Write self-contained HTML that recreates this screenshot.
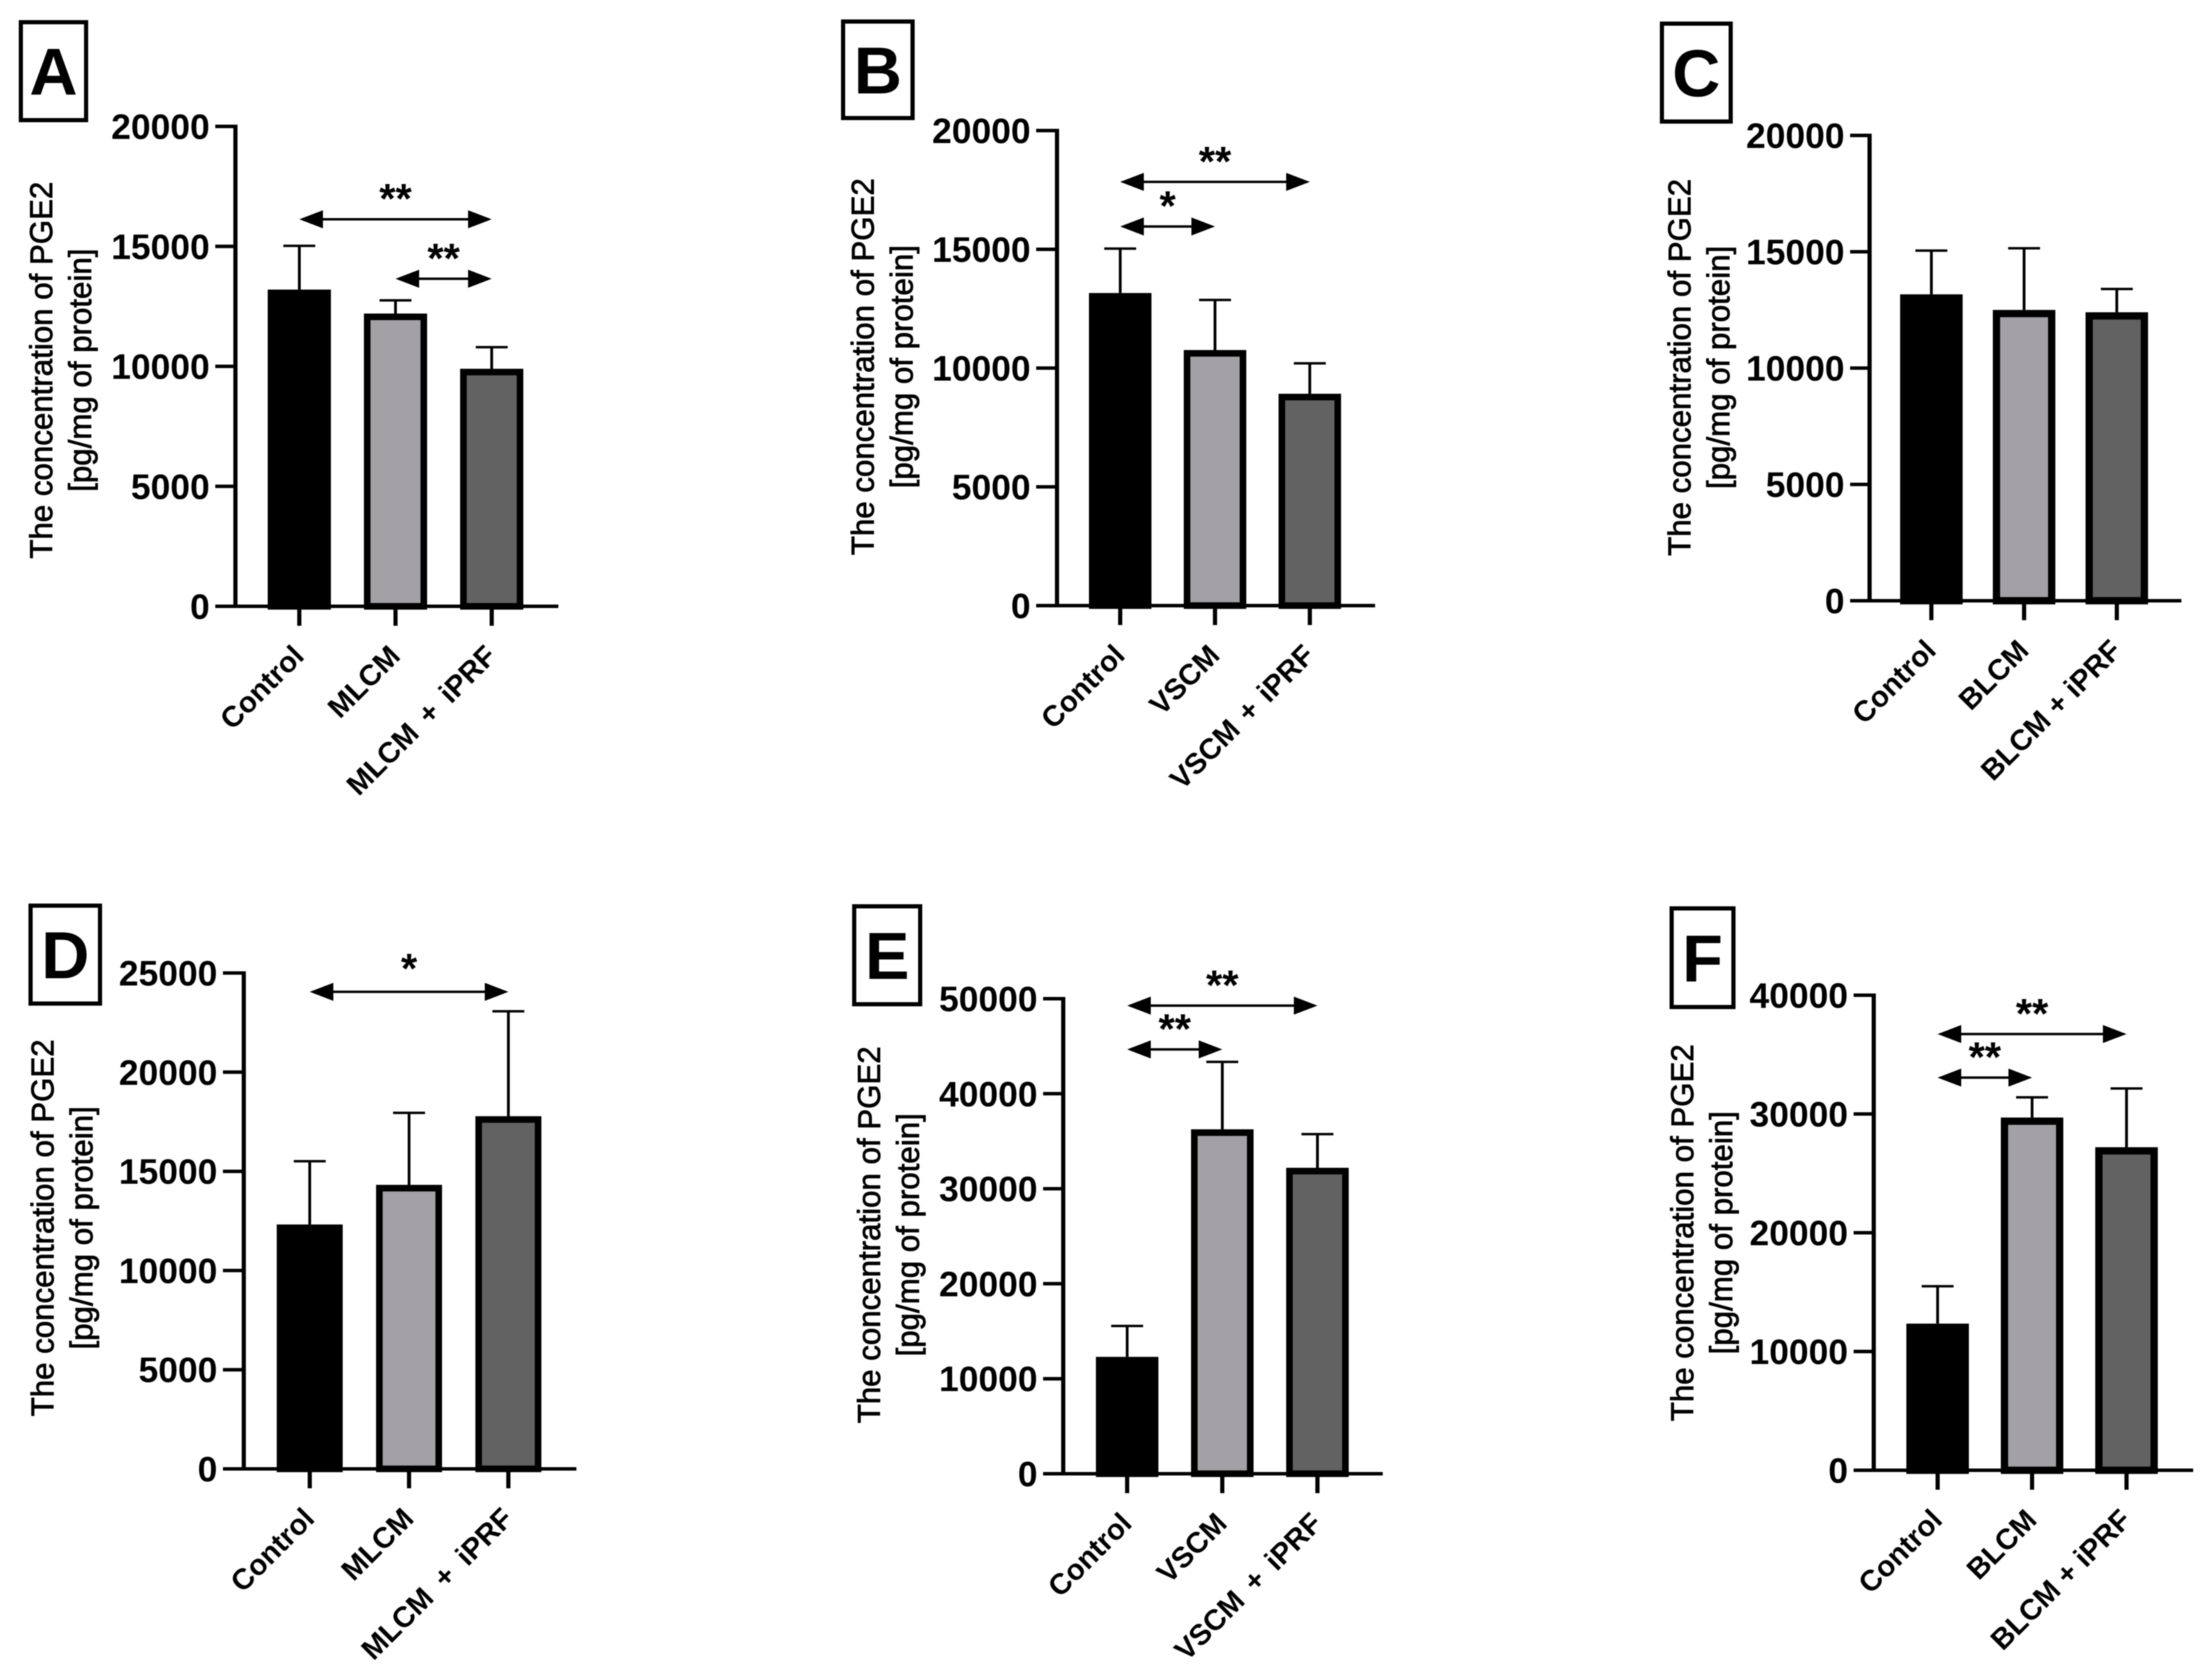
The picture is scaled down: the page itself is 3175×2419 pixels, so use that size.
<!DOCTYPE html>
<html lang="en">
<head>
<meta charset="utf-8">
<title>PGE2 concentration bar charts</title>
<style>
html,body{margin:0;padding:0;background:#fff;}
svg{display:block;filter:blur(0.7px);}
text{font-family:"Liberation Sans",Arial,sans-serif;fill:#000;}
</style>
</head>
<body>
<svg id="figure" xmlns="http://www.w3.org/2000/svg" width="3175" height="2419" viewBox="0 0 3175 2419">
<rect x="0" y="0" width="3175" height="2419" fill="#ffffff"/>
</svg>
<script>
// Chart data
const categoriesA = ['Control', 'MLCM', 'MLCM + iPRF'];
const valuesA = [13200, 12200, 9900];
const errorTopsA = [15020, 12750, 10800];
const ticksA = [0, 5000, 10000, 15000, 20000];
const sigFromA = [0, 1];
const sigToA = [2, 2];
const sigLevelA = [16130, 13650];
const sigLabelA = ['**', '**'];

const categoriesB = ['Control', 'VSCM', 'VSCM + iPRF'];
const valuesB = [13160, 10760, 8920];
const errorTopsB = [15030, 12870, 10200];
const ticksB = [0, 5000, 10000, 15000, 20000];
const sigFromB = [0, 0];
const sigToB = [2, 1];
const sigLevelB = [17840, 15960];
const sigLabelB = ['**', '*'];

const categoriesC = ['Control', 'BLCM', 'BLCM + iPRF'];
const valuesC = [13170, 12500, 12400];
const errorTopsC = [15050, 15150, 13400];
const ticksC = [0, 5000, 10000, 15000, 20000];
const sigFromC = [];
const sigToC = [];
const sigLevelC = [];
const sigLabelC = [];

const categoriesD = ['Control', 'MLCM', 'MLCM + iPRF'];
const valuesD = [12320, 14320, 17780];
const errorTopsD = [15510, 17950, 23070];
const ticksD = [0, 5000, 10000, 15000, 20000, 25000];
const sigFromD = [0];
const sigToD = [2];
const sigLevelD = [24050];
const sigLabelD = ['*'];

const categoriesE = ['Control', 'VSCM', 'VSCM + iPRF'];
const valuesE = [12300, 36250, 32200];
const errorTopsE = [15550, 43350, 35750];
const ticksE = [0, 10000, 20000, 30000, 40000, 50000];
const sigFromE = [0, 0];
const sigToE = [2, 1];
const sigLevelE = [49270, 44660];
const sigLabelE = ['**', '**'];

const categoriesF = ['Control', 'BLCM', 'BLCM + iPRF'];
const valuesF = [12350, 29700, 27200];
const errorTopsF = [15500, 31400, 32150];
const ticksF = [0, 10000, 20000, 30000, 40000];
const sigFromF = [0, 0];
const sigToF = [2, 1];
const sigLevelF = [36730, 33060];
const sigLabelF = ['**', '**'];

const barFills = ['#000000', '#a3a1a6', '#626262'];

const SVGNS = 'http://www.w3.org/2000/svg';
const figure = document.getElementById('figure');

function make(parent, tag, attrs, text) {
  const el = document.createElementNS(SVGNS, tag);
  for (const k in attrs) el.setAttribute(k, attrs[k]);
  if (text !== undefined) el.textContent = text;
  parent.appendChild(el);
  return el;
}

function drawPanel(letter, g, data) {
  const id = letter.toLowerCase();
  const yMax = data.ticks[data.ticks.length - 1];
  const yScale = function (v) { return g.y0 - (v / yMax) * (g.y0 - g.top); };
  const xScale = function (i) { return g.c0 + i * g.step; };

  const panel = make(figure, 'g', {});
  
  

  // Panel letter box
  const box = make(panel, 'rect', {
    x: g.bx + 3, y: g.by + 3, width: g.bw - 6, height: g.bh - 6,
    fill: '#ffffff', stroke: '#000000', 'stroke-width': 6
  });
  
  
  const letterEl = make(panel, 'text', {
    x: g.bx + g.bw / 2, y: g.by + g.bh / 2 + 34,
    'text-anchor': 'middle', 'font-size': 96, 'font-weight': 'bold'
  }, letter);
  
  

  // Y axis title
  const tx1 = g.axisX - 264 + g.titleDx;
  const tx2 = g.axisX - 208 + g.titleDx;
  const title1 = make(panel, 'text', {
    transform: 'translate(' + tx1 + ' ' + g.titleY + ') rotate(-90)',
    'text-anchor': 'middle', 'font-size': 45, stroke: '#000', 'stroke-width': 1
  }, 'The concentration of PGE2');
  
  
  const title2 = make(panel, 'text', {
    transform: 'translate(' + tx2 + ' ' + g.titleY + ') rotate(-90)',
    'text-anchor': 'middle', 'font-size': 45, stroke: '#000', 'stroke-width': 1
  }, '[pg/mg of protein]');
  
  

  // Error bars (behind bars)
  data.values.forEach(function (v, i) {
    const cx = xScale(i);
    const stem = make(panel, 'line', {
      x1: cx, x2: cx, y1: yScale(v), y2: yScale(data.errorTops[i]),
      stroke: '#000', 'stroke-width': 4
    });
    
    
    const cap = make(panel, 'line', {
      x1: cx - 23, x2: cx + 23, y1: yScale(data.errorTops[i]), y2: yScale(data.errorTops[i]),
      stroke: '#000', 'stroke-width': 3.5
    });
    
    
  });

  // Bars
  data.values.forEach(function (v, i) {
    const cx = xScale(i);
    const sw = g.barSw;
    const bar = make(panel, 'rect', {
      x: cx - g.barW / 2 + sw / 2, y: yScale(v) + sw / 2,
      width: g.barW - sw, height: g.y0 - yScale(v) - sw / 2,
      fill: barFills[i], stroke: '#000', 'stroke-width': sw
    });
    
    
  });

  // Y axis and ticks
  const yAxis = make(panel, 'line', {
    x1: g.axisX, x2: g.axisX, y1: g.top - 2.5, y2: g.y0 + 2.5,
    stroke: '#000', 'stroke-width': 6
  });
  
  
  data.ticks.forEach(function (t) {
    const y = yScale(t);
    const tick = make(panel, 'line', {
      x1: g.tickLeft, x2: g.axisX, y1: y, y2: y, stroke: '#000', 'stroke-width': 5
    });
    
    
    const label = make(panel, 'text', {
      x: g.tickLeft - 8, y: y + 18, 'text-anchor': 'end',
      'font-size': 51, 'font-weight': 'bold'
    }, String(t));
    
    
  });

  // X axis, ticks, labels
  const xAxis = make(panel, 'line', {
    x1: g.tickLeft, x2: g.xEnd, y1: g.y0, y2: g.y0, stroke: '#000', 'stroke-width': 5
  });
  
  
  data.categories.forEach(function (c, i) {
    const cx = xScale(i);
    const tick = make(panel, 'line', {
      x1: cx, x2: cx, y1: g.y0, y2: g.y0 + 28, stroke: '#000', 'stroke-width': 6
    });
    
    
    const label = make(panel, 'text', {
      transform: 'translate(' + (cx + 9) + ' ' + (g.y0 + 74) + ') rotate(-45)',
      'text-anchor': 'end', 'font-size': 42, 'font-weight': 'bold',
      'word-spacing': g.labelWs
    }, c);
    
    
  });

  // Significance arrows
  data.sigFrom.forEach(function (from, k) {
    const x1 = xScale(from);
    const x2 = xScale(data.sigTo[k]);
    const y = yScale(data.sigLevel[k]);
    const line = make(panel, 'line', {
      x1: x1 + 10, x2: x2 - 10, y1: y, y2: y, stroke: '#000', 'stroke-width': 3.5
    });
    
    
    const headL = make(panel, 'path', {
      d: 'M' + x1 + ' ' + y + ' l34 -13 v26 z', fill: '#000'
    });
    
    
    const headR = make(panel, 'path', {
      d: 'M' + x2 + ' ' + y + ' l-34 -13 v26 z', fill: '#000'
    });
    
    
    const star = make(panel, 'text', {
      x: (x1 + x2) / 2, y: y - g.starGap + 35, 'text-anchor': 'middle',
      'font-size': 60, 'font-weight': 'bold'
    }, data.sigLabel[k]);
    
    
  });
}

drawPanel('A',
  {bx: 27, by: 29, bw: 100, bh: 147, axisX: 339, top: 182, y0: 873, tickLeft: 310, xEnd: 804, c0: 431, step: 138.5, barW: 91, barSw: 9.5, titleY: 533, titleDx: 0, starGap: 44, labelWs: 7},
  {categories: categoriesA, values: valuesA, errorTops: errorTopsA, ticks: ticksA, sigFrom: sigFromA, sigTo: sigToA, sigLevel: sigLevelA, sigLabel: sigLabelA});
drawPanel('B',
  {bx: 1211, by: 28, bw: 106, bh: 145, axisX: 1522, top: 188, y0: 872, tickLeft: 1492, xEnd: 1980, c0: 1613, step: 136.5, barW: 90, barSw: 9.5, titleY: 528, titleDx: 0, starGap: 44, labelWs: 4},
  {categories: categoriesB, values: valuesB, errorTops: errorTopsB, ticks: ticksB, sigFrom: sigFromB, sigTo: sigToB, sigLevel: sigLevelB, sigLabel: sigLabelB});
drawPanel('C',
  {bx: 2390, by: 31, bw: 105, bh: 147, axisX: 2692, top: 195, y0: 865, tickLeft: 2664, xEnd: 3141, c0: 2781, step: 133.5, barW: 90, barSw: 10.5, titleY: 529, titleDx: 6, starGap: 44, labelWs: 0},
  {categories: categoriesC, values: valuesC, errorTops: errorTopsC, ticks: ticksC, sigFrom: sigFromC, sigTo: sigToC, sigLevel: sigLevelC, sigLabel: sigLabelC});
drawPanel('D',
  {bx: 41, by: 1301, bw: 106, bh: 147, axisX: 351, top: 1401, y0: 2115, tickLeft: 321, xEnd: 830, c0: 446, step: 143, barW: 95, barSw: 9.5, titleY: 1768, titleDx: -10, starGap: 48, labelWs: 9},
  {categories: categoriesD, values: valuesD, errorTops: errorTopsD, ticks: ticksD, sigFrom: sigFromD, sigTo: sigToD, sigLevel: sigLevelD, sigLabel: sigLabelD});
drawPanel('E',
  {bx: 1227, by: 1302, bw: 101, bh: 147, axisX: 1531, top: 1438, y0: 2122, tickLeft: 1502, xEnd: 1991, c0: 1623, step: 137, barW: 90, barSw: 9.5, titleY: 1778, titleDx: 0, starGap: 44, labelWs: 7},
  {categories: categoriesE, values: valuesE, errorTops: errorTopsE, ticks: ticksE, sigFrom: sigFromE, sigTo: sigToE, sigLevel: sigLevelE, sigLabel: sigLabelE});
drawPanel('F',
  {bx: 2404, by: 1305, bw: 95, bh: 148, axisX: 2698, top: 1433, y0: 2117, tickLeft: 2669, xEnd: 3158, c0: 2790, step: 136, barW: 90, barSw: 10.5, titleY: 1775, titleDx: 4, starGap: 44, labelWs: 0},
  {categories: categoriesF, values: valuesF, errorTops: errorTopsF, ticks: ticksF, sigFrom: sigFromF, sigTo: sigToF, sigLevel: sigLevelF, sigLabel: sigLabelF});
</script>
</body>
</html>
